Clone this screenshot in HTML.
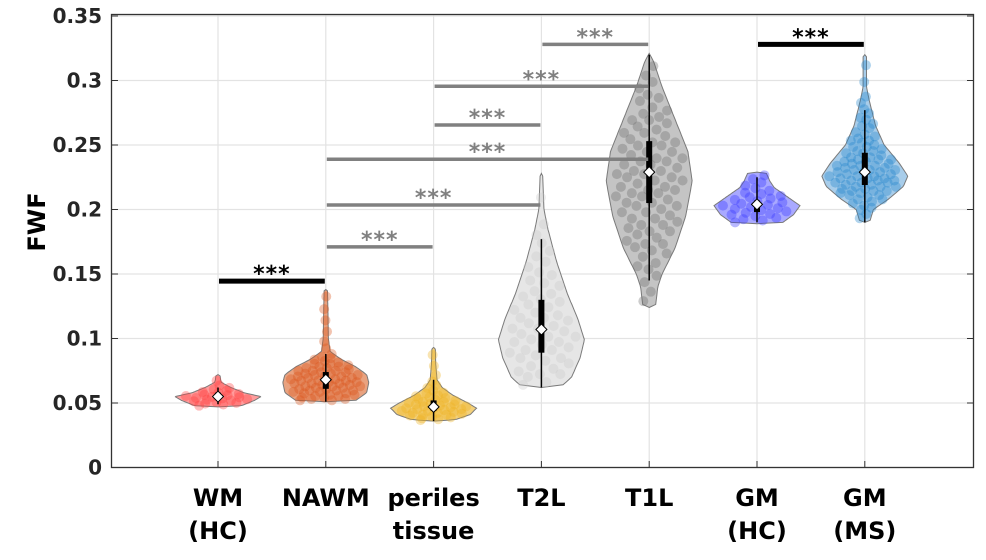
<!DOCTYPE html>
<html><head><meta charset="utf-8"><style>
body{margin:0;background:#fff;}
svg{display:block;font-family:"DejaVu Sans","Liberation Sans",sans-serif;}
</style></head><body>
<svg id="chart" width="986" height="560" viewBox="0 0 986 560" xmlns="http://www.w3.org/2000/svg">
<g id="grid"></g>
<g id="yticks"></g>
<g id="violins"></g>
<g id="sig"></g>
<g id="xlabels"></g>
<text x="0" y="0" transform="translate(45,222) rotate(-90)" text-anchor="middle" font-size="24" font-weight="bold" fill="#000">FWF</text>
<rect x="111.5" y="14.5" width="862" height="453" fill="none" stroke="#333" stroke-width="1.3"/>
</svg>
<script>
const yTicks=[0,0.05,0.1,0.15,0.2,0.25,0.3,0.35];
const yTickLabels=["0","0.05","0.1","0.15","0.2","0.25","0.3","0.35"];
const categories=["WM|(HC)","NAWM","periles|tissue","T2L","T1L","GM|(HC)","GM|(MS)"];
const medians=[0.055,0.068,0.047,0.107,0.229,0.204,0.229];
const q1s=[0.053,0.061,0.044,0.089,0.205,0.198,0.219];
const q3s=[0.058,0.074,0.052,0.130,0.253,0.207,0.244];
const whiskLo=[0.049,0.051,0.036,0.062,0.145,0.190,0.190];
const whiskHi=[0.062,0.088,0.068,0.177,0.320,0.225,0.277];
// density profiles: [value, relative width]
const dens0=[[0.047,0],[0.048,0.55],[0.052,0.85],[0.055,1],[0.058,0.6],[0.062,0.3],[0.066,0.08],[0.068,0.06],[0.071,0.05],[0.072,0]];
const dens1=[[0.051,0],[0.052,0.7],[0.058,0.95],[0.066,1],[0.072,0.95],[0.078,0.7],[0.084,0.35],[0.090,0.1],[0.100,0.06],[0.120,0.05],[0.137,0.04],[0.138,0]];
const dens2=[[0.036,0],[0.037,0.5],[0.041,0.85],[0.046,1],[0.050,0.8],[0.056,0.45],[0.062,0.2],[0.068,0.08],[0.080,0.05],[0.092,0.04],[0.093,0]];
const dens3=[[0.062,0],[0.0625,0.45],[0.070,0.7],[0.085,0.9],[0.099,1],[0.115,0.85],[0.135,0.6],[0.160,0.35],[0.185,0.15],[0.200,0.06],[0.227,0.03],[0.228,0]];
const dens4=[[0.124,0],[0.126,0.15],[0.140,0.2],[0.150,0.3],[0.170,0.6],[0.195,0.85],[0.222,1],[0.245,0.9],[0.270,0.6],[0.295,0.3],[0.315,0.1],[0.321,0]];
const dens5=[[0.189,0],[0.190,0.6],[0.196,0.85],[0.203,1],[0.210,0.7],[0.217,0.4],[0.222,0.3],[0.228,0.22],[0.229,0]];
const dens6=[[0.190,0],[0.191,0.12],[0.200,0.2],[0.208,0.55],[0.218,0.9],[0.226,1],[0.236,0.8],[0.250,0.45],[0.265,0.25],[0.285,0.1],[0.295,0.04],[0.319,0.04],[0.320,0]];
const densities=[dens0,dens1,dens2,dens3,dens4,dens5,dens6];
const pointCounts=[24,70,45,55,85,30,85];
const fills=["#ff9d9d","#e9a27f","#f3d07a","#e6e6e6","#c4c4c4","#a9a9ff","#a8cdea"];
const dotColors=["#ff4040","#d95319","#edb120","#c8c8c8","#6e6e6e","#3535ff","#1f84cc"];
// significance comparisons [from index, to index]
const sigFrom=[0,1,1,1,2,2,3,5];
const sigTo=[1,2,3,4,3,4,4,6];
const sigY=[0.1445,0.1710,0.2035,0.2390,0.2655,0.2955,0.3280,0.3280];
const sigBlack=[true,false,false,false,false,false,false,true];

const NS="http://www.w3.org/2000/svg";
const X0=218,DX=107.8,Y0=467.5,PX=1290,HW=43;
const xs=i=>X0+i*DX, ys=v=>Y0-v*PX;
function mk(t,a,p){const e=document.createElementNS(NS,t);for(const k in a)e.setAttribute(k,a[k]);p.appendChild(e);return e;}
const grid=document.getElementById('grid'),yt=document.getElementById('yticks');
yTicks.forEach((v,i)=>{
 const l=mk('line',{x1:112,x2:973,y1:ys(v),y2:ys(v),stroke:'#e3e3e3','stroke-width':1.2},grid);
 
 
 const t1=mk('line',{x1:112,x2:118,y1:ys(v),y2:ys(v),stroke:'#333'},yt);
 
 
 const t2=mk('line',{x1:967,x2:973,y1:ys(v),y2:ys(v),stroke:'#333'},yt);
 
 
 const tx=mk('text',{x:102,y:ys(v)+7,'text-anchor':'end','font-size':20,'font-weight':'bold',fill:'#262626'},yt);
 tx.textContent=yTickLabels[i];
 
 
});
const vg=document.getElementById('violins'),xl=document.getElementById('xlabels');
function widthAt(d,v){for(let k=0;k<d.length-1;k++){if(v>=d[k][0]&&v<=d[k+1][0]){const t=(v-d[k][0])/(d[k+1][0]-d[k][0]);return d[k][1]+t*(d[k+1][1]-d[k][1]);}}return 0;}
categories.forEach((c,i)=>{
 const x=xs(i);
 const gl=mk('line',{x1:x,x2:x,y1:15,y2:467,stroke:'#e3e3e3','stroke-width':1.2},grid);
 
 
 const tk=mk('line',{x1:x,x2:x,y1:461,y2:467,stroke:'#333'},yt);
 
 
 const d=densities[i];
 const lo=d[0][0],hi=d[d.length-1][0],N=80;
 let r=[],l=[];
 for(let k=0;k<=N;k++){const v=lo+(hi-lo)*k/N;const w=widthAt(d,v)*HW;r.push((x+w).toFixed(1)+','+ys(v).toFixed(1));l.unshift((x-w).toFixed(1)+','+ys(v).toFixed(1));}
 const g=mk('g',{},vg);
 
 
 const p=mk('path',{d:'M'+r.join('L')+'L'+l.join('L')+'Z',fill:fills[i],stroke:'#7a7a7a','stroke-width':1},g);
 
 
 const n=pointCounts[i];let cum=[0];
 for(let k=1;k<=N;k++){const v=lo+(hi-lo)*k/N;cum.push(cum[k-1]+widthAt(d,v));}
 const tot=cum[N];
 for(let j=0;j<n;j++){
  const q=(j+0.5)/n*tot;let k=1;while(k<N&&cum[k]<q)k++;
  const v=lo+(hi-lo)*k/N;const w=widthAt(d,v)*HW*0.85;
  const jit=(((j*0.618034)%1)*2-1);
  const dt=mk('circle',{cx:x+jit*w,cy:ys(v),r:5,fill:dotColors[i],opacity:0.35},g);
  
  
 }
 const wl=mk('line',{x1:x,x2:x,y1:ys(whiskLo[i]),y2:ys(whiskHi[i]),stroke:'#000','stroke-width':1.5},g);
 
 
 const bx=mk('rect',{x:x-3,y:ys(q3s[i]),width:6,height:ys(q1s[i])-ys(q3s[i]),fill:'#000'},g);
 
 
 const m=ys(medians[i]);
 const md=mk('path',{d:`M${x-5.5},${m}L${x},${m-5.5}L${x+5.5},${m}L${x},${m+5.5}Z`,fill:'#fff',stroke:'#000','stroke-width':1},g);
 
 
 c.split('|').forEach((s,k)=>{
  const t=mk('text',{x:x,y:506+k*33,'text-anchor':'middle','font-size':24,'font-weight':'bold',fill:'#000'},xl);
  t.textContent=s;
  
  
 });
});
const sg=document.getElementById('sig');
sigFrom.forEach((f,i)=>{
 const y=ys(sigY[i]),col=sigBlack[i]?'#000':'#808080';
 const b=mk('line',{x1:xs(f)+1,x2:xs(sigTo[i])-1,y1:y,y2:y,stroke:col,'stroke-width':sigBlack[i]?5:3.5},sg);
 
 
 const t=mk('text',{x:(xs(f)+xs(sigTo[i]))/2,y:y,'text-anchor':'middle','font-size':22,'font-weight':'bold','letter-spacing':'1',fill:col},sg);
 t.textContent='***';
 
 
});
</script>
</body></html>
